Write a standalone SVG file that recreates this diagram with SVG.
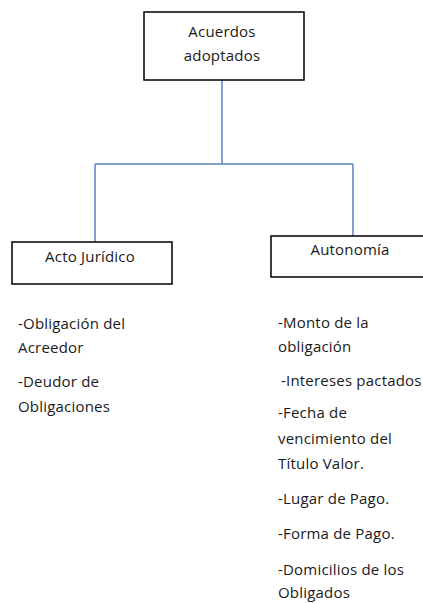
<svg xmlns="http://www.w3.org/2000/svg" width="423" height="603" viewBox="0 0 423 603">
<style>
.box{fill:#fff;stroke:#000;stroke-width:1.5}
.conn{fill:none;stroke:#5b86c0;stroke-width:1.5}
text{font-family:"Open Sans",Lato,"Liberation Sans",sans-serif;font-size:15px;letter-spacing:0.2px;fill:#1a1a1a}
.c{text-anchor:middle}
</style>
<rect width="423" height="603" fill="#fff"/>
<g id="connectors">
<path class="conn" d="M222 80 V164 M95 164 H353 M95 164 V242 M353 164 V236"/>
</g>
<g id="acuerdos">
<rect class="box" x="144" y="12" width="160" height="68"/>
<text class="c" x="222" y="37">Acuerdos</text>
<text class="c" x="222" y="61">adoptados</text>
</g>
<g id="acto">
<rect class="box" x="12" y="242" width="160" height="42"/>
<text class="c" x="90" y="262">Acto Jurídico</text>
</g>
<g id="autonomia">
<rect class="box" x="271" y="236" width="160" height="41"/>
<text class="c" x="350" y="255">Autonomía</text>
</g>
<g id="acto-items">
<text x="18" y="329">-Obligación del</text>
<text x="18" y="353">Acreedor</text>
<text x="18" y="387">-Deudor de</text>
<text x="18" y="412">Obligaciones</text>
</g>
<g id="autonomia-items">
<text x="278" y="328">-Monto de la</text>
<text x="278" y="352">obligación</text>
<text x="281" y="386">-Intereses pactados</text>
<text x="278" y="418">-Fecha de</text>
<text x="278" y="444">vencimiento del</text>
<text x="278" y="469">Título Valor.</text>
<text x="278" y="504">-Lugar de Pago.</text>
<text x="278" y="539">-Forma de Pago.</text>
<text x="278" y="575">-Domicilios de los</text>
<text x="278" y="598">Obligados</text>
</g>
</svg>
